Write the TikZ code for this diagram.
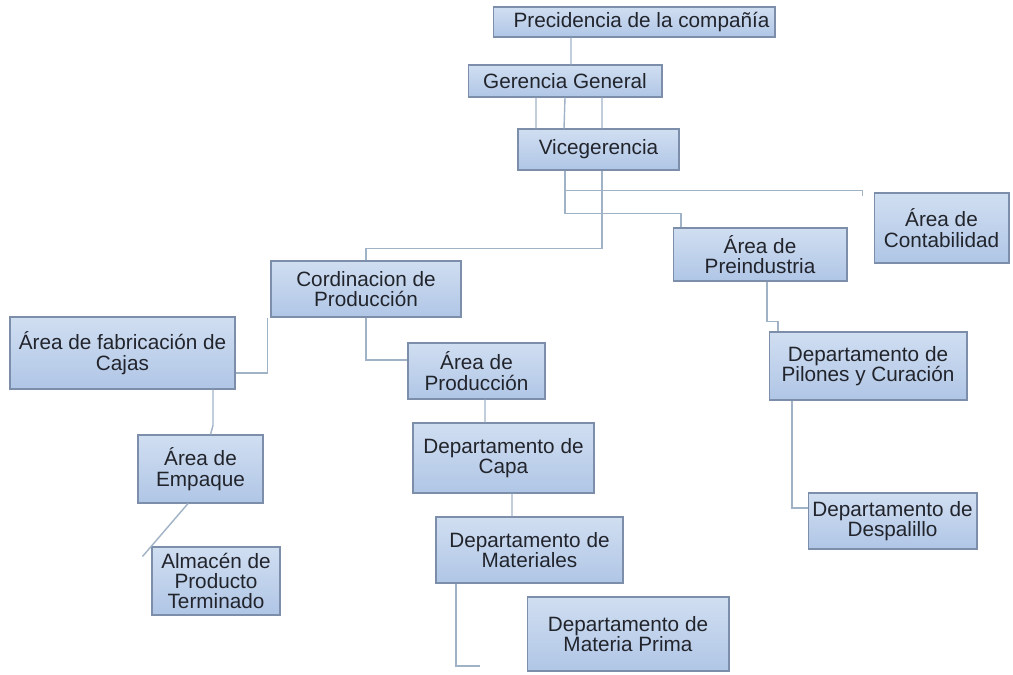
\documentclass[tikz,border=0pt]{standalone}
\usepackage{fontspec}
\setmainfont{Liberation Sans}
\usepackage{tikz}

\definecolor{boxtop}{RGB}{208,222,241}
\definecolor{boxbot}{RGB}{176,198,230}
\definecolor{boxline}{RGB}{125,142,170}
\definecolor{linkgrey}{RGB}{160,178,198}
\definecolor{textgrey}{RGB}{34,36,44}

\tikzset{
  box/.style={draw=boxline, line width=0.6pt, top color=boxtop, bottom color=boxbot,
    align=center, inner sep=0pt, text=textgrey, font=\fontsize{11.8}{11.6}\selectfont},
  link/.style={draw=linkgrey, line width=0.8pt}
}

\begin{document}
\begin{tikzpicture}[x=0.02cm,y=-0.02cm]
\useasboundingbox (0,0) rectangle (1013,674);

\node [box, minimum width=5.64cm, minimum height=0.60cm] (prec) at (634,22) {\hspace*{0.3cm}Precidencia de la compañía};
\node [box, minimum width=3.88cm, minimum height=0.64cm] (ger) at (565,81) {Gerencia General};
\node [box, minimum width=3.22cm, minimum height=0.82cm] (vice) at (598.5,149.5) {Vicegerencia};
\node [box, minimum width=2.70cm, minimum height=1.40cm] (conta) at (941.5,228) {Área de\\Contabilidad};
\node [box, minimum width=3.48cm, minimum height=1.06cm] (prein) at (760,254.5) {Área de\\Preindustria};
\node [box, minimum width=3.80cm, minimum height=1.12cm] (cord) at (366,289) {Cordinacion de\\Producción};
\node [box, minimum width=4.50cm, minimum height=1.44cm] (caja) at (122.5,353) {Área de fabricación de\\Cajas};
\node [box, minimum width=2.74cm, minimum height=1.12cm] (prod) at (476.5,371) {Área de\\Producción};
\node [box, minimum width=3.96cm, minimum height=1.36cm] (pilo) at (868,366) {Departamento de\\Pilones y Curación};
\node [box, minimum width=2.50cm, minimum height=1.36cm] (empa) at (200.5,469) {Área de\\Empaque};
\node [box, minimum width=3.62cm, minimum height=1.40cm] (capa) at (503.5,458) {Departamento de\\Capa};
\node [box, minimum width=3.38cm, minimum height=1.12cm] (desp) at (892.5,521) {Departamento de\\Despalillo};
\node [box, minimum width=3.74cm, minimum height=1.32cm] (mate) at (529.5,550) {Departamento de\\Materiales};
\node [box, minimum width=2.56cm, minimum height=1.36cm] (alma) at (216,581) {Almacén de\\Producto\\Terminado};
\node [box, minimum width=4.04cm, minimum height=1.48cm] (prim) at (628,634) {Departamento de\\Materia Prima};

\coordinate (primend) at (480,666);

% top of the chart
\draw [link] ([xshift=-1.26cm]prec.south) -- ([xshift=0.12cm]ger.north);
\draw [link] ([xshift=-0.58cm]ger.south) -- ([xshift=-1.25cm]vice.north);
\draw [link] (ger.south) -- ([xshift=-0.69cm]vice.north);
\draw [link] ([xshift=0.74cm]ger.south) -- ([xshift=0.07cm]vice.north);

% branches of Vicegerencia
\draw [link] ([xshift=-0.67cm]vice.south) |- ([xshift=-0.22cm,yshift=0.04cm]conta.north west) -- ++(0,6);
\draw [link] ([xshift=-0.67cm]vice.south) |- ([xshift=-1.58cm,yshift=0.28cm]prein.north) -- ([xshift=-1.58cm]prein.north);
\draw [link] ([xshift=0.07cm]vice.south) |- ([yshift=0.24cm]cord.north) -- (cord.north);

% production side
\draw [link] ([xshift=-0.06cm]cord.south west) |- ([yshift=-0.4cm]caja.east);
\draw [link] (cord.south) |- ([yshift=0.22cm]prod.west);
\draw [link] ([xshift=0.17cm]prod.south) -- ([xshift=-0.37cm]capa.north);
\draw [link] ([xshift=0.17cm]capa.south) -- ([xshift=-0.35cm]mate.north);
\draw [link] ([xshift=-1.47cm]mate.south) |- (primend);
\draw [link] ([xshift=1.81cm]caja.south) -- ++(0,36) -- ([xshift=0.2cm]empa.north);
\draw [link] ([xshift=-0.25cm]empa.south) -- ([xshift=-0.18cm,yshift=-0.2cm]alma.north west);

% preindustria side
\draw [link] ([xshift=0.14cm]prein.south) |- ([xshift=-1.8cm,yshift=0.2cm]pilo.north) -- ([xshift=-1.8cm]pilo.north);
\draw [link] ([xshift=-1.52cm]pilo.south) |- ([yshift=0.26cm]desp.west);
\end{tikzpicture}
\end{document}
